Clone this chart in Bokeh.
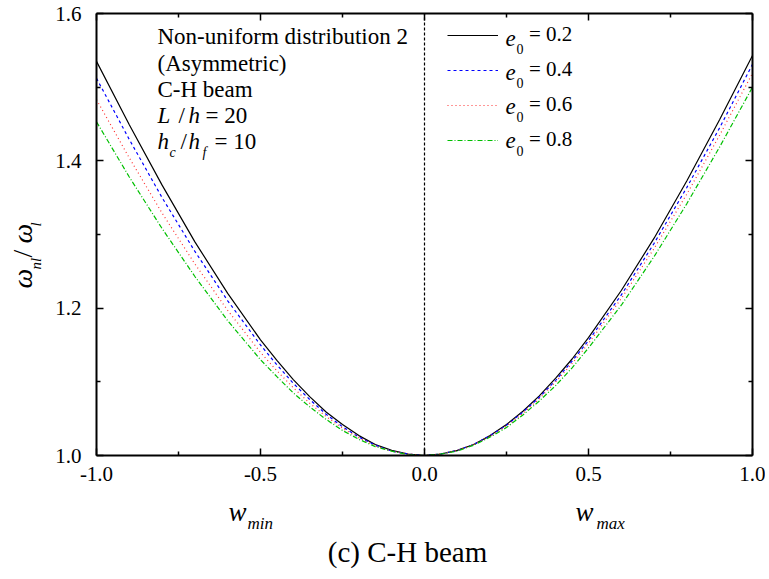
import math
from bokeh.plotting import figure
from bokeh.models import (Range1d, LinearAxis, FixedTicker, Label, Legend,
                          LegendItem, NumeralTickFormatter)
from bokeh.embed import file_html
from bokeh.resources import INLINE

# ---- data ----
w = [-1.0, -0.9, -0.8, -0.7, -0.6, -0.5, -0.45, -0.4, -0.35, -0.3, -0.25, -0.2, -0.15, -0.1, -0.05, 0.0,
     0.05, 0.1, 0.15, 0.2, 0.25, 0.3, 0.35, 0.4, 0.45, 0.5, 0.6, 0.7, 0.8, 0.9, 1.0]
e02 = [1.535, 1.449, 1.367, 1.290, 1.220, 1.157, 1.129, 1.103, 1.080, 1.059, 1.042, 1.027, 1.015, 1.007, 1.002, 1.000,
       1.002, 1.007, 1.015, 1.027, 1.042, 1.060, 1.081, 1.105, 1.131, 1.160, 1.224, 1.295, 1.373, 1.456, 1.543]
e04 = [1.512, 1.429, 1.350, 1.277, 1.210, 1.150, 1.123, 1.098, 1.076, 1.056, 1.039, 1.025, 1.014, 1.006, 1.002, 1.000,
       1.002, 1.007, 1.015, 1.027, 1.041, 1.059, 1.079, 1.102, 1.128, 1.156, 1.218, 1.288, 1.364, 1.445, 1.531]
e06 = [1.483, 1.404, 1.329, 1.260, 1.197, 1.140, 1.115, 1.092, 1.071, 1.053, 1.037, 1.024, 1.013, 1.006, 1.002, 1.000,
       1.002, 1.007, 1.015, 1.026, 1.040, 1.057, 1.077, 1.100, 1.125, 1.152, 1.213, 1.281, 1.355, 1.435, 1.519]
e08 = [1.453, 1.378, 1.308, 1.243, 1.183, 1.130, 1.107, 1.085, 1.066, 1.049, 1.034, 1.022, 1.012, 1.006, 1.001, 1.000,
       1.002, 1.006, 1.014, 1.025, 1.038, 1.055, 1.074, 1.095, 1.119, 1.146, 1.204, 1.270, 1.342, 1.419, 1.500]
legend_values = ["0.2", "0.4", "0.6", "0.8"]
x_ticks = [-1.0, -0.5, 0.0, 0.5, 1.0]
x_minor = [-0.75, -0.25, 0.25, 0.75]
y_ticks = [1.0, 1.2, 1.4, 1.6]
y_minor = [1.1, 1.3, 1.5]

FONT = "Liberation Serif"
W, H = 765, 575
PX_L, PX_R, PX_T, PX_B = 96, 752, 13, 455   # plot-box edges in page pixels

XMIN, XMAX = x_ticks[0], x_ticks[-1]
YMIN, YMAX = y_ticks[0], y_ticks[-1]
sx = (PX_R - PX_L) / (XMAX - XMIN)
sy = (PX_B - PX_T) / (YMAX - YMIN)

def X(px):
    return XMIN + (px - PX_L) / sx

def Y(py):
    return YMAX - (py - PX_T) / sy

p = figure(width=W, height=H, x_range=Range1d(X(0), X(W)), y_range=Range1d(Y(H), Y(0)),
           output_backend="svg", toolbar_location=None,
           min_border=0, min_border_left=0, min_border_right=0,
           min_border_top=0, min_border_bottom=0)
p.grid.visible = False
p.outline_line_color = None
p.background_fill_color = "white"
p.border_fill_color = "white"

xt = FixedTicker(ticks=x_ticks, minor_ticks=x_minor)
yt = FixedTicker(ticks=y_ticks, minor_ticks=y_minor)

def style_axis(ax, labels=True):
    ax.axis_line_width = 2
    ax.axis_line_color = "black"
    ax.major_tick_in = 7
    ax.major_tick_out = 0
    ax.minor_tick_in = 4
    ax.minor_tick_out = 0
    ax.major_tick_line_width = 1.5
    ax.minor_tick_line_width = 1.5
    ax.major_tick_line_color = "black"
    ax.minor_tick_line_color = "black"
    ax.major_label_text_font = FONT
    ax.major_label_text_font_size = "21px"
    ax.major_label_text_color = "black" if labels else None

bx = p.xaxis[0]
ly = p.yaxis[0]
bx.ticker = xt
ly.ticker = yt
bx.formatter = NumeralTickFormatter(format="0.0")
ly.formatter = NumeralTickFormatter(format="0.0")
bx.fixed_location = YMIN
bx.bounds = (XMIN, XMAX)
ly.fixed_location = XMIN
ly.bounds = (YMIN, YMAX)
style_axis(bx)
style_axis(ly)
bx.major_label_standoff = 11
ly.major_label_standoff = 15

top = LinearAxis(ticker=xt, fixed_location=YMAX, bounds=(XMIN, XMAX))
right = LinearAxis(ticker=yt, fixed_location=XMAX, bounds=(YMIN, YMAX))
style_axis(top, labels=False)
style_axis(right, labels=False)
p.add_layout(top, "above")
p.add_layout(right, "right")

# vertical dashed reference line at w = 0
p.segment(x0=[x_ticks[2]], y0=[YMIN], x1=[x_ticks[2]], y1=[YMAX],
          line_color="black", line_dash="3 2", line_width=1.2)

r1 = p.line(w, e02, line_color="black", line_width=1.2)
r2 = p.line(w, e04, line_color="#0000ff", line_width=1.2, line_dash="3 3")
r3 = p.line(w, e06, line_color="#ff3030", line_width=1.2, line_dash="1 3")
r4 = p.line(w, e08, line_color="#00c000", line_width=1.2, line_dash="5 2 1 2")

legend = Legend(items=[LegendItem(label="= " + v, renderers=[r])
                       for v, r in zip(legend_values, (r1, r2, r3, r4))],
                location=(447, H - 152), padding=0, margin=0, spacing=10,
                glyph_width=51, glyph_height=24, label_height=24, label_width=40,
                label_standoff=31, border_line_color=None, background_fill_alpha=0,
                label_text_font=FONT, label_text_font_size="21px",
                label_text_color="black")
p.add_layout(legend)

OFF = 0.32  # baseline correction, in em

def lab(text, px, py, size, italic=False, angle=0.0, align="left"):
    if angle:
        px = px - OFF * size
    else:
        py = py - OFF * size
    p.add_layout(Label(x=X(px), y=Y(py), text=text, text_font=FONT,
                       text_font_size=f"{size}px",
                       text_font_style="italic" if italic else "normal",
                       text_baseline="alphabetic", text_align=align,
                       angle=angle, text_color="black"))

# annotation block
lab("Non-uniform distribution 2", 157, 43, 23)
lab("(Asymmetric)", 157, 70, 23)
lab("C-H beam", 157, 96, 23)
lab("L", 157, 122, 23, italic=True)
lab("/", 178, 122, 23)
lab("h", 188, 122, 23, italic=True)
lab("= 20", 205, 122, 23)
lab("h", 157, 148, 23, italic=True)
lab("c", 169, 156, 14, italic=True)
lab("/", 180, 148, 23)
lab("h", 188, 148, 23, italic=True)
lab("f", 202, 156, 14, italic=True)
lab("= 10", 214, 148, 23)

# legend symbols e_0
for i, v in enumerate(legend_values):
    base = 45 + i * 34
    lab("e", 505, base, 23, italic=True)
    lab("0", 516, base + 8, 14)

# x axis labels
lab("w", 228, 520, 27, italic=True)
lab("min", 247, 528, 17, italic=True)
lab("w", 575, 520, 27, italic=True)
lab("max", 596, 528, 17, italic=True)

# caption
lab("(c) C-H beam", 407, 561, 29, align="center")

# y axis label (rotated)
A = math.pi / 2
lab("\u03c9", 31, 288, 28, italic=True, angle=A)
lab("nl", 40, 269, 15, italic=True, angle=A)
lab("/", 31, 257, 28, angle=A)
lab("\u03c9", 31, 243, 28, italic=True, angle=A)
lab("l", 40, 226, 15, italic=True, angle=A)

open("out.html", "w").write(file_html(p, INLINE))
